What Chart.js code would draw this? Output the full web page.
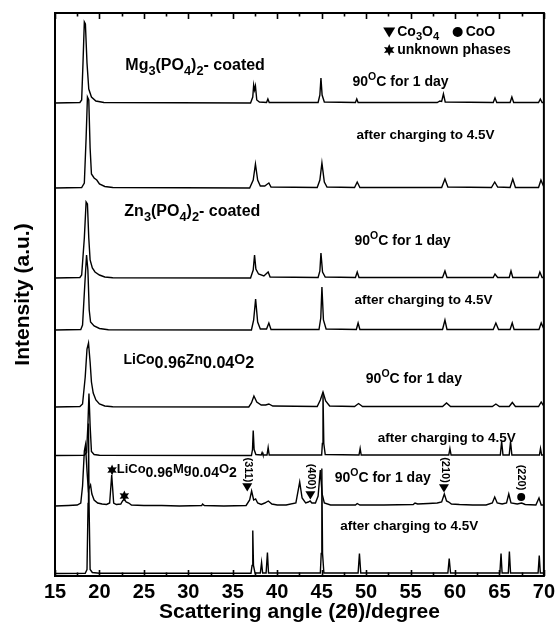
<!DOCTYPE html>
<html>
<head>
<meta charset="utf-8">
<script src="https://cdn.jsdelivr.net/npm/chart.js@4.4.0/dist/chart.umd.min.js"></script>
<style>
html, body { margin: 0; padding: 0; background: #fff; }
canvas { display: block; }
</style>
</head>
<body>
<canvas id="xrdChart" width="559" height="625"></canvas>
<script>
// tick labels on the 2-theta axis
const xTicks = [15, 20, 25, 30, 35, 40, 45, 50, 55, 60, 65, 70];

// vertical stacking offset of each pattern (a.u.), top pattern first
const traceOffsets = [473, 388, 298, 246, 169, 120.5, 70, 2.5];

// [2theta, intensity]
const mgCoated90 = [[15,0],[17.8,0.5],[18.0,3],[18.15,40],[18.3,81],[18.42,79],[18.6,40],[18.8,14],[19.1,6],[19.6,2],[20.5,0.5],[37.0,0],[37.25,6],[37.35,18],[37.45,13],[37.55,17],[37.7,3],[38.0,1],[38.8,0.5],[38.95,4],[39.1,0.5],[44.6,0.5],[44.8,8],[44.92,25],[45.05,8],[45.3,1],[48.8,0.5],[48.95,4],[49.1,0.5],[58.0,0.5],[58.3,2],[58.5,1.5],[58.7,9],[58.9,1],[64.3,0.5],[64.5,5],[64.7,0.5],[66.2,0.5],[66.4,6],[66.6,0.5],[69.4,0.5],[69.6,4],[69.8,0.5],[70,0.5]];
const mgCoatedCharged = [[15,0],[18.0,0.5],[18.3,5],[18.5,50],[18.65,91],[18.8,88],[18.95,40],[19.1,14],[19.4,10],[19.7,8],[20.0,4],[20.6,1.5],[21.5,0.5],[36.9,0],[37.3,8],[37.55,24],[37.8,8],[38.1,2],[38.6,2],[38.9,4],[39.06,5],[39.3,1],[44.5,0.5],[44.8,8],[45.03,25],[45.3,6],[45.6,1],[48.7,0.5],[49.0,6],[49.3,0.5],[58.5,0.5],[58.87,9],[59.2,1],[64.1,0.5],[64.47,6],[64.8,1],[66.2,0.5],[66.5,9],[66.8,0.5],[69.4,0.5],[69.67,8],[70,1]];
const znCoated90 = [[15,0],[17.8,0.5],[18.0,3],[18.3,40],[18.5,76],[18.65,74],[18.8,40],[18.95,18],[19.2,10],[19.5,6],[20.0,3],[20.6,1],[21.5,0.3],[37.0,0],[37.3,8],[37.45,23],[37.6,9],[37.9,4],[38.5,2],[38.98,6],[39.2,1],[44.6,0.5],[44.8,7],[44.92,25],[45.1,6],[45.4,1],[48.8,0.5],[49.0,6],[49.2,0.5],[58.6,0.5],[58.87,7],[59.1,0.5],[64.3,0.5],[64.5,4],[64.8,0.5],[66.1,0.5],[66.3,7],[66.5,0.5],[69.35,0.5],[69.55,6],[69.8,0.5],[70,0.5]];
const znCoatedCharged = [[15,0],[17.9,0.5],[18.1,5],[18.35,45],[18.55,75],[18.7,60],[18.85,20],[19.0,8],[19.4,4],[20.0,1.5],[21,0.3],[37.1,0],[37.35,10],[37.57,31],[37.8,8],[38.1,1],[38.8,1],[39.06,7],[39.3,0.5],[44.7,0.5],[44.9,12],[45.03,43],[45.2,10],[45.5,1],[48.9,0.5],[49.1,7],[49.3,0.5],[58.6,0.5],[58.87,10],[59.1,0.5],[64.3,0.5],[64.6,7],[64.9,0.5],[66.2,0.5],[66.44,7],[66.65,0.5],[69.45,0.5],[69.7,7],[70,1]];
const znDoped90 = [[15,0],[17.8,0.5],[18.1,3],[18.4,30],[18.6,58],[18.77,64],[18.95,45],[19.1,25],[19.3,14],[19.6,7],[20.0,3],[20.6,1],[21.5,0.3],[36.8,0],[37.1,4],[37.38,11],[37.7,5],[38.2,2],[38.7,2],[39.06,3],[39.5,1],[44.5,0.5],[44.85,7],[45.15,15],[45.45,6],[45.9,1],[48.7,0.5],[49.15,3.5],[49.6,0.5],[58.6,0.5],[59.05,4],[59.5,0.5],[64.2,0.5],[64.6,3],[65.0,0.5],[66.1,0.5],[66.45,4.5],[66.8,0.5],[69.4,0.5],[69.7,5],[70,1]];
const znDopedCharged = [[15,0],[18.3,0.3],[18.55,3],[18.7,30],[18.82,62],[18.95,30],[19.1,4],[19.4,1],[20,0.3],[37.1,0],[37.22,6],[37.3,25],[37.4,6],[37.6,1],[38.2,0.5],[38.3,3],[38.4,0.5],[38.85,0.5],[38.98,8],[39.1,0.5],[45.0,0.5],[45.08,12],[45.15,63],[45.24,12],[45.4,1],[49.2,0.5],[49.33,7],[49.45,0.5],[59.3,0.5],[59.43,7],[59.56,0.5],[65.1,0.5],[65.25,14],[65.4,0.5],[66.1,0.5],[66.25,14],[66.4,0.5],[69.5,0.5],[69.62,7],[69.75,0.5],[70,0.5]];
const mgDoped90 = [[15,0],[16.5,0.5],[17.5,1],[17.9,3],[18.1,20],[18.3,55],[18.43,61],[18.6,35],[18.75,16],[18.9,19],[19.0,21],[19.15,12],[19.4,6],[19.8,3],[20.3,2],[20.8,1.5],[21.15,3],[21.38,31],[21.6,3],[21.9,1.5],[22.4,2],[22.6,5],[22.8,7],[23.0,4],[23.3,3],[23.6,1],[25,0.5],[27,0.5],[29,0],[31.5,0.5],[31.6,2],[31.8,0.5],[34,0],[36.5,0.5],[36.9,6],[37.12,15],[37.35,6],[37.57,7],[37.8,3],[38.2,1.5],[38.6,3],[39.0,5],[39.4,2],[40,1],[41,1],[42.1,3],[42.53,24],[42.8,8],[43.2,3],[43.5,4],[43.7,5],[43.9,3],[44.3,3],[44.6,10],[44.85,36],[45.05,12],[45.3,3],[46,1],[48,1],[48.8,1],[49.0,2.5],[49.3,1],[52,1],[55.3,1.5],[55.5,3],[55.8,2],[57,2.5],[58,3],[58.5,4],[58.8,12],[59.05,5],[59.3,4],[59.6,2],[60.5,1.5],[62,1],[63.5,1],[64.2,3],[64.47,9],[64.75,3],[65.3,2],[65.8,3],[66.05,12],[66.3,3],[67.0,2],[67.5,3],[67.9,1.5],[69.1,1],[69.45,8],[69.7,1],[70,1]];
const mgDopedCharged = [[15,0],[18.4,0.3],[18.6,4],[18.72,70],[18.77,150],[18.83,70],[18.95,4],[19.2,1],[20,0.3],[37.05,0.3],[37.17,8],[37.25,43],[37.33,8],[37.5,0.5],[38.1,0.5],[38.24,11],[38.36,0.5],[38.75,0.5],[38.9,21],[39.02,0.5],[44.85,0.5],[44.95,20],[45.02,105],[45.1,20],[45.25,0.5],[49.1,0.5],[49.25,20],[49.4,0.5],[59.2,0.5],[59.35,15],[59.5,0.5],[65.05,0.5],[65.18,20],[65.3,0.5],[66.0,0.5],[66.12,22],[66.25,0.5],[69.35,0.5],[69.48,18],[69.6,0.5],[70,0.5]];

const traces = [mgCoated90, mgCoatedCharged, znCoated90, znCoatedCharged,
                znDoped90, znDopedCharged, mgDoped90, mgDopedCharged];

const FONT = '"Liberation Sans", Arial, Helvetica, sans-serif';

// text notes, placed in data units (2theta, a.u.)
const notes = [
    {t: 'Mg_{3}(PO_{4})_{2}- coated', x: 22.91, y: 506, size: 16},
    {t: 'Co_{3}O_{4}', x: 53.5, y: 540, size: 14},
    {t: 'CoO', x: 61.2, y: 540, size: 14},
    {t: 'unknown phases', x: 53.5, y: 522, size: 14},
    {t: '90^{O}C for 1 day', x: 48.47, y: 490, size: 14},
    {t: 'after charging to 4.5V', x: 48.92, y: 437, size: 13.5},
    {t: 'Zn_{3}(PO_{4})_{2}- coated', x: 22.8, y: 360, size: 16},
    {t: '90^{O}C for 1 day', x: 48.7, y: 331, size: 14},
    {t: 'after charging to 4.5V', x: 48.7, y: 272, size: 13.5},
    {t: 'LiCo_{0.96}Zn_{0.04}O_{2}', x: 22.7, y: 212, size: 14, sub: 1.15},
    {t: '90^{O}C for 1 day', x: 49.97, y: 193, size: 14},
    {t: 'after charging to 4.5V', x: 51.3, y: 134, size: 13.5},
    {t: 'LiCo_{0.96}Mg_{0.04}O_{2}', x: 21.94, y: 103, size: 13, sub: 1.08},
    {t: '90^{O}C for 1 day', x: 46.46, y: 94, size: 14},
    {t: 'after charging to 4.5V', x: 47.1, y: 46, size: 13.5}
];
const hklNotes = [
    {t: '(311)', x: 36.75, y: 106},
    {t: '(400)', x: 43.82, y: 99.5},
    {t: '(210)', x: 58.9, y: 106},
    {t: '(220)', x: 67.45, y: 98.5}
];
const markers = [
    {k: 'tri', x: 52.6, y: 544, r: 6},
    {k: 'dot', x: 60.3, y: 544, r: 5},
    {k: 'star', x: 52.6, y: 526, r: 6},
    {k: 'star', x: 21.42, y: 106, r: 5.5},
    {k: 'star', x: 22.8, y: 80, r: 5.5},
    {k: 'tri', x: 36.63, y: 89, r: 5},
    {k: 'tri', x: 43.73, y: 81, r: 5},
    {k: 'tri', x: 58.76, y: 88, r: 5},
    {k: 'dot', x: 67.45, y: 79, r: 4}
];

function drawRich(ctx, str, x, y, size, subScale) {
    const re = /([_^])\{([^}]*)\}|([^_^]+)/g;
    let m, cx = x;
    while ((m = re.exec(str))) {
        let s = size, dy = 0, txt = m[3];
        if (m[1] === '_') { s = size * (subScale || 0.8); dy = size * 0.32; txt = m[2]; }
        if (m[1] === '^') { s = size * 0.75; dy = -size * 0.42; txt = m[2]; }
        ctx.font = 'bold ' + s + 'px ' + FONT;
        ctx.fillText(txt, cx, y + dy);
        cx += ctx.measureText(txt).width;
    }
}

function drawMarker(ctx, k, px, py, r) {
    ctx.beginPath();
    if (k === 'tri') {
        ctx.moveTo(px - r, py - r * 0.75);
        ctx.lineTo(px + r, py - r * 0.75);
        ctx.lineTo(px, py + r * 0.9);
        ctx.closePath();
        ctx.fill();
    } else if (k === 'dot') {
        ctx.arc(px, py, r, 0, Math.PI * 2);
        ctx.fill();
    } else {
        for (let i = 0; i < 12; i++) {
            const a = Math.PI / 6 * i - Math.PI / 2;
            const rr = i % 2 === 0 ? r : r * 0.5;
            const fx = px + rr * Math.cos(a), fy = py + rr * Math.sin(a);
            if (i === 0) ctx.moveTo(fx, fy); else ctx.lineTo(fx, fy);
        }
        ctx.closePath();
        ctx.fill();
    }
}

const framePlugin = {
    id: 'frameAndNotes',
    afterDraw(chart) {
        const {ctx, chartArea: a, scales: {x, y}} = chart;
        ctx.save();
        ctx.strokeStyle = '#000';
        ctx.fillStyle = '#000';
        // frame
        ctx.lineWidth = 2;
        ctx.strokeRect(a.left, a.top, a.right - a.left, a.bottom - a.top);
        // inward ticks every 2.5 degrees, top and bottom
        ctx.lineWidth = 1.6;
        for (let v = 15; v <= 70; v += 2.5) {
            const px = Math.round(x.getPixelForValue(v)) + 0.5;
            const len = v % 5 === 0 ? 6 : 3.5;
            ctx.beginPath();
            ctx.moveTo(px, a.bottom); ctx.lineTo(px, a.bottom - len);
            ctx.moveTo(px, a.top); ctx.lineTo(px, a.top + len);
            ctx.stroke();
        }
        // notes
        ctx.textAlign = 'left';
        ctx.textBaseline = 'alphabetic';
        notes.forEach(n => {
            drawRich(ctx, n.t, x.getPixelForValue(n.x), y.getPixelForValue(n.y), n.size, n.sub);
        });
        ctx.font = 'bold 11px ' + FONT;
        ctx.textAlign = 'center';
        ctx.textBaseline = 'middle';
        hklNotes.forEach(n => {
            ctx.save();
            ctx.translate(x.getPixelForValue(n.x), y.getPixelForValue(n.y));
            ctx.rotate(Math.PI / 2);
            ctx.fillText(n.t, 0, 0);
            ctx.restore();
        });
        markers.forEach(mk => {
            drawMarker(ctx, mk.k, x.getPixelForValue(mk.x), y.getPixelForValue(mk.y), mk.r);
        });
        ctx.restore();
    }
};

new Chart(document.getElementById('xrdChart'), {
    type: 'line',
    data: {
        datasets: traces.map((pts, i) => ({
            data: pts.map(p => ({x: p[0], y: p[1] + traceOffsets[i]})),
            borderColor: '#000',
            borderWidth: 1.4,
            pointRadius: 0,
            tension: 0,
            fill: false
        }))
    },
    options: {
        responsive: false,
        animation: false,
        layout: {padding: {top: 13, right: 13, left: 0, bottom: 0}},
        plugins: {legend: {display: false}, tooltip: {enabled: false}},
        scales: {
            x: {
                type: 'linear',
                min: 15,
                max: 70,
                afterBuildTicks: s => { s.ticks = xTicks.map(v => ({value: v})); },
                afterFit: s => { s.height = 49; },
                grid: {display: false, drawTicks: false},
                border: {display: false},
                ticks: {color: '#000', padding: 4, font: {family: FONT, size: 20, weight: 'bold'}},
                title: {
                    display: true,
                    text: 'Scattering angle (2\u03B8)/degree',
                    color: '#000',
                    font: {family: FONT, size: 21, weight: 'bold'},
                    padding: {top: 0, bottom: 0}
                }
            },
            y: {
                min: 0,
                max: 563,
                afterFit: s => { s.width = 55; },
                grid: {display: false, drawTicks: false},
                border: {display: false},
                ticks: {display: false},
                title: {
                    display: true,
                    text: 'Intensity (a.u.)',
                    color: '#000',
                    font: {family: FONT, size: 21, weight: 'bold'},
                    padding: {top: 11, bottom: 0}
                }
            }
        }
    },
    plugins: [framePlugin]
});
</script>
</body>
</html>
